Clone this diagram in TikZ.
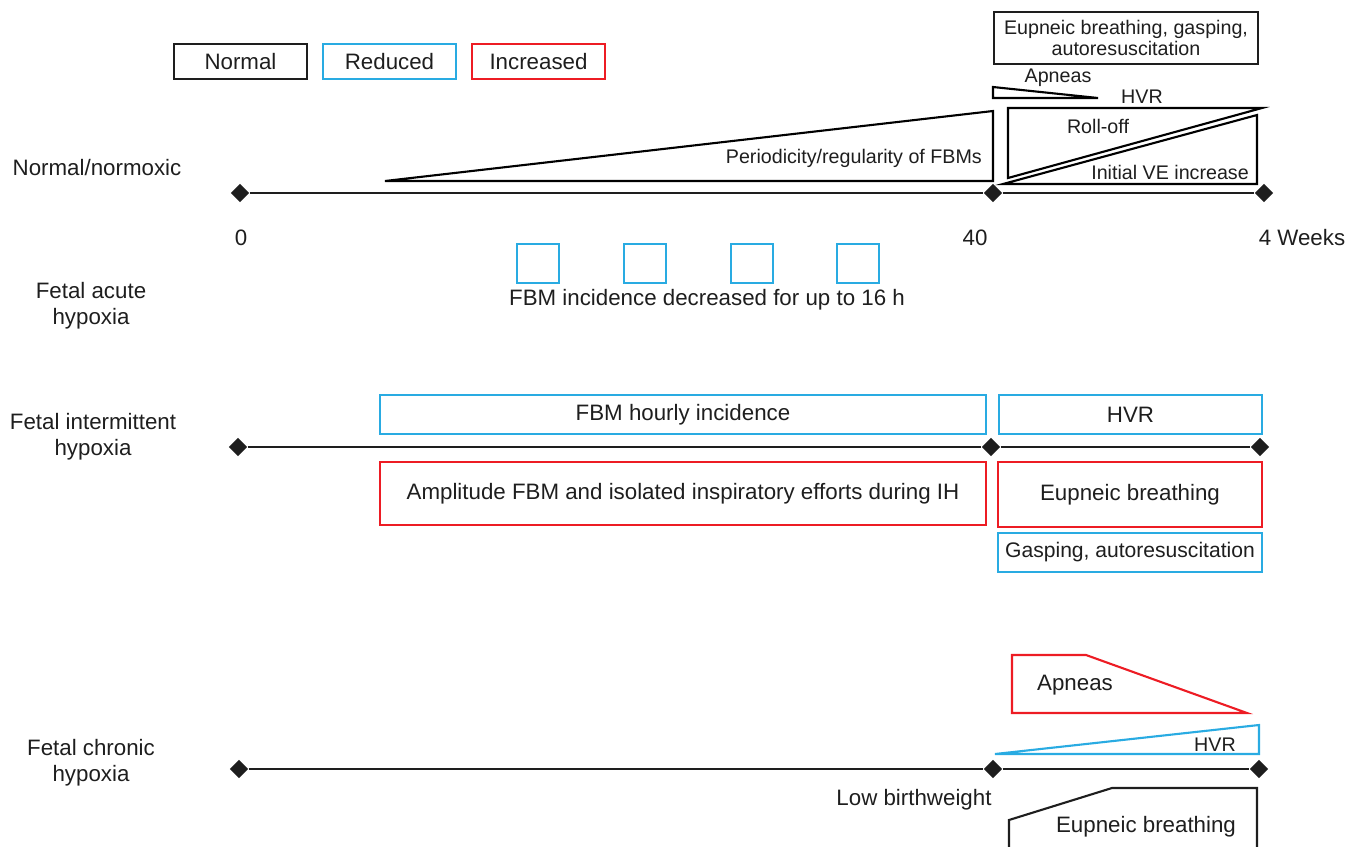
\documentclass[tikz,border=0pt]{standalone}
\usepackage{fontspec}
\setmainfont{Liberation Sans}
\usetikzlibrary{shapes.geometric,fit}
\definecolor{reducedc}{RGB}{41,171,226}
\definecolor{increasedc}{RGB}{237,28,36}
\definecolor{inkc}{RGB}{30,30,30}
\tikzset{
  big/.style={font=\fontsize{12.7}{14.7}\selectfont, text=inkc},
  small/.style={font=\fontsize{11.2}{12}\selectfont, text=inkc},
  box/.style={draw, line width=1.1pt, inner sep=0pt},
  normalbox/.style={box, draw=inkc},
  reducedbox/.style={box, draw=reducedc},
  increasedbox/.style={box, draw=increasedc},
  tickmark/.style={diamond, fill=inkc, inner sep=0pt, minimum size=0.37cm},
  axis/.style={line width=1.1pt, draw=inkc},
  wedge/.style={line width=1.2pt, line join=miter},
}
\begin{document}
\begin{tikzpicture}[x=0.02cm, y=-0.02cm]
\useasboundingbox (0,0) rectangle (1363,846);

% legend
\node[normalbox, fit={(174,44)(307,79)}] (lgnormal) {};
\node[big] at (lgnormal.center) {Normal};
\node[reducedbox, fit={(323,44)(456,79)}] (lgreduced) {};
\node[big] at (lgreduced.center) {Reduced};
\node[increasedbox, fit={(472,44)(605,79)}] (lgincreased) {};
\node[big] at (lgincreased.center) {Increased};

% row labels
\node[big] (lbnormal) at (97,168) {Normal/normoxic};
\node[big, align=center] (lbacute) at (91,306) {Fetal acute\\hypoxia};
\node[big, align=center] (lbinter) at (93,437) {Fetal intermittent\\hypoxia};
\node[big, align=center] (lbchronic) at (91,763) {Fetal chronic\\hypoxia};

% ---------- normal / normoxic timeline ----------
\node[tickmark] (a0) at (240,193) {};
\node[tickmark] (a1) at (993,193) {};
\node[tickmark] (a2) at (1264,193) {};
\draw[axis] (a0) -- (a1) -- (a2);
\node[big] (t0) at (241,238) {0};
\node[big] (t40) at (975,238) {40};
\node[big] (t4w) at (1302,238) {4 Weeks};

% periodicity wedge
\draw[wedge] (385,181) -- (993,111) -- (993,181) -- cycle;
\node[small, anchor=east] (periodic) at (988,158) {Periodicity/regularity of FBMs};

% postnatal boxes and wedges
\node[normalbox, fit={(994,12)(1258,64)}] (eupneic1) {};
\node[small, align=center, font=\fontsize{11.2}{11.9}\selectfont] (eupneic1txt) at (eupneic1.center)
  {Eupneic breathing, gasping,\\autoresuscitation};
\draw[wedge] (993,87) -- (1098,98) -- (993,98) -- cycle;
\node[small] (apneas1) at (1058,78) {Apneas};
\node[small] (hvr1) at (1142,97) {HVR};
\draw[wedge] (1008,108) -- (1262,108) -- (1008,178) -- cycle;
\node[small] (rolloff) at (1098,126) {Roll-off};
\draw[wedge] (1003,184) -- (1257,115) -- (1257,184) -- cycle;
\node[small, anchor=east] (veinc) at (1255,172) {Initial VE increase};

% ---------- fetal acute hypoxia ----------
\node[reducedbox, fit={(517,244)(559,283)}] (sq1) {};
\node[reducedbox, fit={(624,244)(666,283)}] (sq2) {};
\node[reducedbox, fit={(731,244)(773,283)}] (sq3) {};
\node[reducedbox, fit={(837,244)(879,283)}] (sq4) {};
\node[big] (fbmdec) at (707,300) {FBM incidence decreased for up to 16 h};

% ---------- fetal intermittent hypoxia ----------
\node[tickmark] (b0) at (238,447) {};
\node[tickmark] (b1) at (991,447) {};
\node[tickmark] (b2) at (1260,447) {};
\draw[axis] (b0) -- (b1) -- (b2);
\node[reducedbox, fit={(380,395)(986,434)}] (fbmhour) {};
\node[big] at (fbmhour.center) {FBM hourly incidence};
\node[reducedbox, fit={(999,395)(1262,434)}] (hvr2) {};
\node[big] at (hvr2.center) {HVR};
\node[increasedbox, fit={(380,462)(986,525)}] (amplitude) {};
\node[big] at (amplitude.center) {Amplitude FBM and isolated inspiratory efforts during IH};
\node[increasedbox, fit={(998,462)(1262,527)}] (eupneic2) {};
\node[big] at (eupneic2.center) {Eupneic breathing};
\node[reducedbox, fit={(998,533)(1262,572)}] (gasping) {};
\node[big, font=\fontsize{12}{14}\selectfont] at (gasping.center) {Gasping, autoresuscitation};

% ---------- fetal chronic hypoxia ----------
\node[tickmark] (c0) at (239,769) {};
\node[tickmark] (c1) at (993,769) {};
\node[tickmark] (c2) at (1259,769) {};
\draw[axis] (c0) -- (c1) -- (c2);
\node[big] (lowbw) at (914,800) {Low birthweight};
\draw[wedge, increasedc] (1012,655) -- (1086,655) -- (1247,713) -- (1012,713) -- cycle;
\node[big] (apneas3) at (1075,685) {Apneas};
\draw[wedge, reducedc] (995,754) -- (1259,725) -- (1259,754) -- cycle;
\node[small] (hvr3) at (1215,745) {HVR};
\draw[wedge, inkc] (1009,850) -- (1009,820) -- (1112,788) -- (1257,788) -- (1257,850);
\node[big] (eupneic3) at (1146,827) {Eupneic breathing};
\end{tikzpicture}
\end{document}
